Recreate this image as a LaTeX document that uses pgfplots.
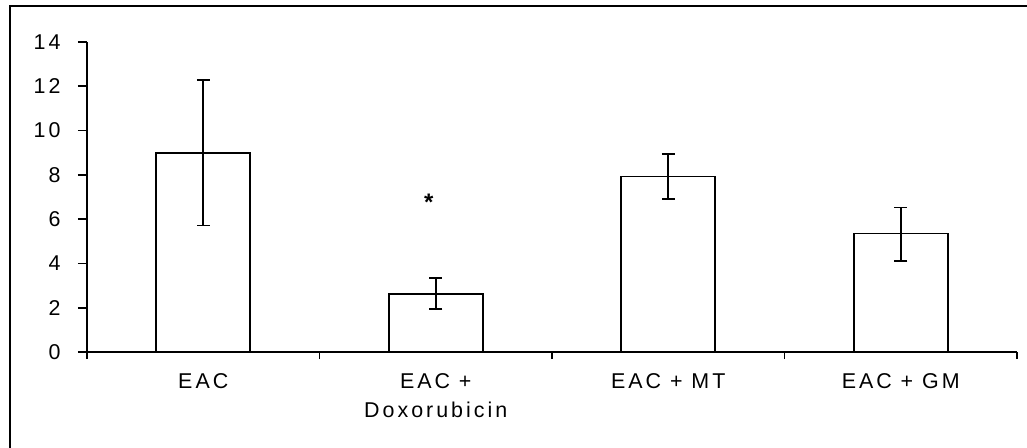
\documentclass[border=0pt]{standalone}
\usepackage{fontspec}
\setmainfont{Liberation Sans}
\newfontfamily\spaced[LetterSpace=14]{Liberation Sans}
\usepackage{pgfplots}
\pgfplotsset{compat=1.18}
\begin{document}
\begin{tikzpicture}
\useasboundingbox (0,0) rectangle (1027bp,448bp);
\draw[line width=2.5bp] (10bp,0) -- (10bp,442bp) -- (1027bp,442bp);
\begin{axis}[
  at={(87bp,96bp)}, anchor=south west, scale only axis,
  width=930bp, height=310bp,
  xmin=0, xmax=4, ymin=0, ymax=14,
  axis lines*=left,
  axis line style={line width=1.6bp, black},
  xtick={0.5,1.5,2.5,3.5},
  xticklabels={EAC, {EAC +\\Doxorubicin}, EAC + MT, EAC + GM},
  major x tick style={draw=none},
  minor xtick={0,1,2,3,4},
  ytick={0,2,...,14},
  tick align=outside,
  major tick length=9bp, minor tick length=7bp,
  tick style={line width=1.6bp, black},
  /pgf/number format/assume math mode=true,
  tick label style={font=\spaced\fontsize{21.5}{29}\selectfont},
  xticklabel style={align=center, anchor=north, yshift=-9bp},
  yticklabel style={anchor=east, xshift=-14bp},
  clip=false,
]
\addplot[ybar, bar width=94bp, fill=white, draw=black, line width=1.6bp,
  error bars/.cd, y dir=both, y explicit,
  error bar style={line width=1.6bp, black},
  error mark options={rotate=90, mark size=6.5bp, line width=1.6bp, black}]
  table[x=x, y=y, y error plus=ep, y error minus=em] {
x    y     ep    em
0.5  9.00  3.28  3.28
1.5  2.63  0.71  0.70
2.5  7.92  1.01  1.01
3.5  5.36  1.16  1.25
};
\node[font=\bfseries\fontsize{24}{28}\selectfont] at (axis cs:1.47,6.76) {*};
\end{axis}
\end{tikzpicture}
\end{document}
